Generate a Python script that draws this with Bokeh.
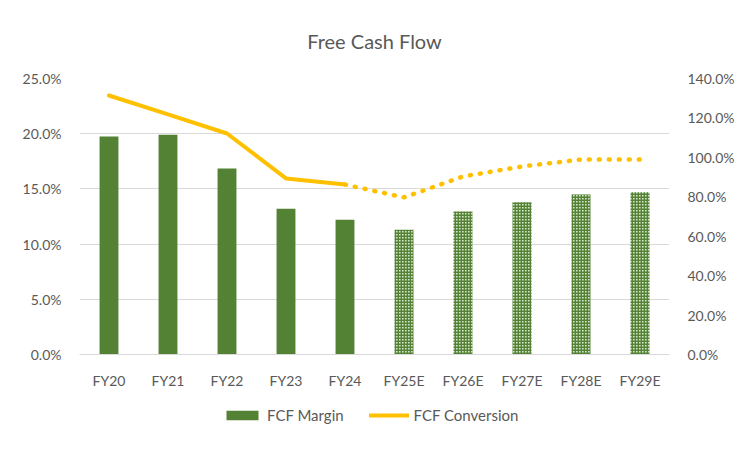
from bokeh.plotting import figure
from bokeh.layouts import column
from bokeh.models import (ColumnDataSource, FactorRange, Range1d, LinearAxis,
                          NumeralTickFormatter, Legend, LegendItem)
from bokeh.embed import file_html
from bokeh.resources import INLINE

categories = ["FY20", "FY21", "FY22", "FY23", "FY24",
              "FY25E", "FY26E", "FY27E", "FY28E", "FY29E"]
fcf_margin = [0.1975, 0.199, 0.1685, 0.132, 0.122,
              0.113, 0.1295, 0.138, 0.145, 0.147]
fcf_conversion = [1.314, 1.218, 1.121, 0.893, 0.862,
                  0.797, 0.903, 0.954, 0.989, 0.989]
n_actual = 5

FONT = "Lato"
GREY = "#595959"
GREEN = "#548235"
GOLD = "#FFC000"

p = figure(x_range=FactorRange(*categories), y_range=Range1d(0, 0.25),
           frame_width=590, frame_height=276,
           output_backend="svg", toolbar_location=None,
           min_border_left=79, min_border_right=83, min_border_top=78,
           min_border_bottom=50)
p.extra_y_ranges = {"right": Range1d(0, 1.4001)}
p.outline_line_color = None

p.title.text = "Free Cash Flow"
p.title.align = "center"
p.title.text_font = FONT
p.title.text_font_size = "20px"
p.title.text_font_style = "normal"
p.title.text_color = GREY
p.title.standoff = 51

act = ColumnDataSource(dict(x=categories[:n_actual], top=fcf_margin[:n_actual]))
est = ColumnDataSource(dict(x=categories[n_actual:], top=fcf_margin[n_actual:]))

p.vbar(x="x", top="top", width=0.32, source=act, fill_color=GREEN,
       line_color=None)
p.vbar(x="x", top="top", width=0.32, source=est, fill_color="#d5e3c9",
       line_color=None, hatch_pattern="cross", hatch_color=GREEN,
       hatch_scale=3, hatch_weight=1.8)

p.line(categories[:n_actual], fcf_conversion[:n_actual],
       y_range_name="right", line_color=GOLD, line_width=4,
       line_join="round", line_cap="round")
p.line(categories[n_actual - 1:], fcf_conversion[n_actual - 1:],
       y_range_name="right", line_color=GOLD, line_width=4.5,
       line_cap="round", line_dash="1 9")

p.yaxis.formatter = NumeralTickFormatter(format="0.0%")
right = LinearAxis(y_range_name="right", formatter=NumeralTickFormatter(format="0.0%"))
p.add_layout(right, "right")

for ax in [p.yaxis[0], right]:
    ax.axis_line_color = None
    ax.major_tick_line_color = None
    ax.minor_tick_line_color = None
    ax.major_label_text_font = FONT
    ax.major_label_text_font_size = "14px"
    ax.major_label_text_color = GREY
    ax.major_label_standoff = 12
p.yaxis[0].ticker.desired_num_ticks = 6
right.ticker.desired_num_ticks = 8

p.xaxis.axis_line_color = "#d9d9d9"
p.xaxis.major_tick_line_color = None
p.xaxis.minor_tick_line_color = None
p.xaxis.major_label_text_font = FONT
p.xaxis.major_label_text_font_size = "14px"
p.xaxis.major_label_text_color = GREY
p.xaxis.major_label_standoff = 11

p.xgrid.grid_line_color = None
p.ygrid.grid_line_color = "#d9d9d9"

# legend strip below the chart (hidden sample glyphs only feed the legend)
lg = figure(width=752, height=48, output_backend="svg", toolbar_location=None,
            x_axis_type=None, y_axis_type=None, min_border=0,
            x_range=FactorRange(*categories), y_range=Range1d(0, 0.0001))
lg.outline_line_color = None
lg.grid.visible = False
leg_bar = lg.vbar(x=categories[:1], top=fcf_margin[:1], width=0.32,
                  fill_color=GREEN, line_color=None, visible=False)
leg_line = lg.line(x=categories[:2], y=fcf_conversion[:2], line_color=GOLD,
                   line_width=4, line_cap="round", visible=False)
legend = Legend(items=[LegendItem(label="FCF Margin", renderers=[leg_bar]),
                       LegendItem(label="FCF Conversion", renderers=[leg_line])],
                orientation="horizontal", location=(143, 28),
                label_text_font=FONT, label_text_font_size="15px",
                label_text_color=GREY, glyph_width=40, glyph_height=12,
                spacing=25, label_standoff=5, border_line_color=None,
                background_fill_alpha=0, margin=0, padding=4,
                inactive_fill_alpha=0)
lg.add_layout(legend, "center")

layout = column(p, lg, spacing=0)
open("out.html", "w").write(file_html(layout, INLINE))
